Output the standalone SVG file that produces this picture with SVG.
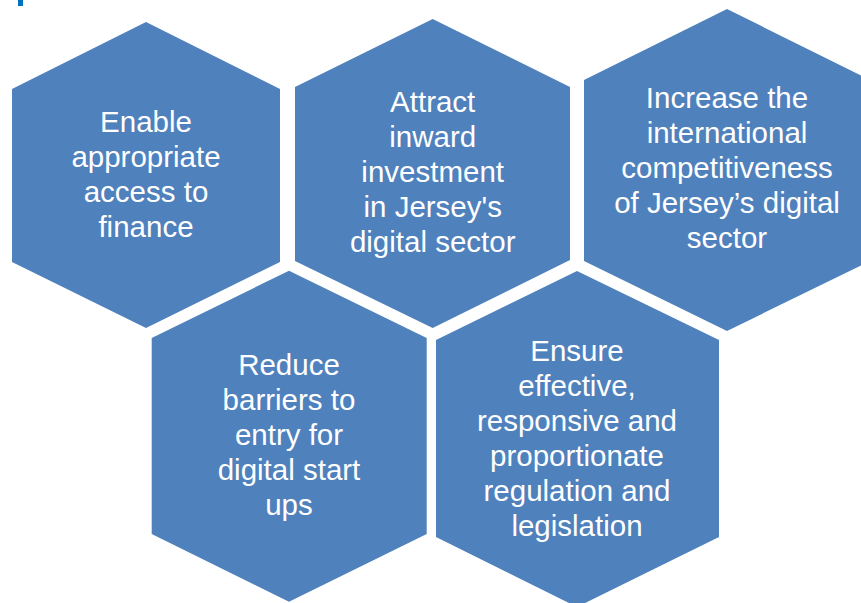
<svg xmlns="http://www.w3.org/2000/svg" width="861" height="603" viewBox="0 0 861 603">
<style>
.hex{fill:#4f81bd;}
.t{fill:#ffffff;font-family:"Liberation Sans",Arial,sans-serif;font-size:29.5px;text-anchor:middle;}
</style>
<rect width="861" height="603" fill="#ffffff"/>
<rect x="18" y="0" width="5" height="6" fill="#0070c0"/>
<g id="connectors"></g>
<g id="node1">
<polygon class="hex" points="146,22 280,89 280,262 146,328 12,262 12,89"/>
<text class="t" x="146" y="132">Enable</text>
<text class="t" x="146" y="167">appropriate</text>
<text class="t" x="146" y="202">access to</text>
<text class="t" x="146" y="237">finance</text>
</g>
<g id="node2">
<polygon class="hex" points="432.7,19 570,87 570,260 432.7,328 295,261 295,87"/>
<text class="t" x="432.7" y="112">Attract</text>
<text class="t" x="432.7" y="147">inward</text>
<text class="t" x="432.7" y="182">investment</text>
<text class="t" x="432.7" y="217">in Jersey's</text>
<text class="t" x="432.7" y="252">digital sector</text>
</g>
<g id="node3">
<polygon class="hex" points="727,9 870,80 870,261 727,331 584,261 584,80"/>
<text class="t" x="727" y="108">Increase the</text>
<text class="t" x="727" y="143">international</text>
<text class="t" x="727" y="178">competitiveness</text>
<text class="t" x="727" y="213">of Jersey’s digital</text>
<text class="t" x="727" y="248">sector</text>
</g>
<g id="node4">
<polygon class="hex" points="289,270.7 426.7,338 426.7,534 289,601.7 151.7,534 151.7,338"/>
<text class="t" x="289" y="375">Reduce</text>
<text class="t" x="289" y="410">barriers to</text>
<text class="t" x="289" y="445">entry for</text>
<text class="t" x="289" y="480">digital start</text>
<text class="t" x="289" y="515">ups</text>
</g>
<g id="node5">
<polygon class="hex" points="577,271 719,340 719,537 577,607 436,537 436,340"/>
<text class="t" x="577" y="361">Ensure</text>
<text class="t" x="577" y="396">effective,</text>
<text class="t" x="577" y="431">responsive and</text>
<text class="t" x="577" y="466">proportionate</text>
<text class="t" x="577" y="501">regulation and</text>
<text class="t" x="577" y="536">legislation</text>
</g>
</svg>
